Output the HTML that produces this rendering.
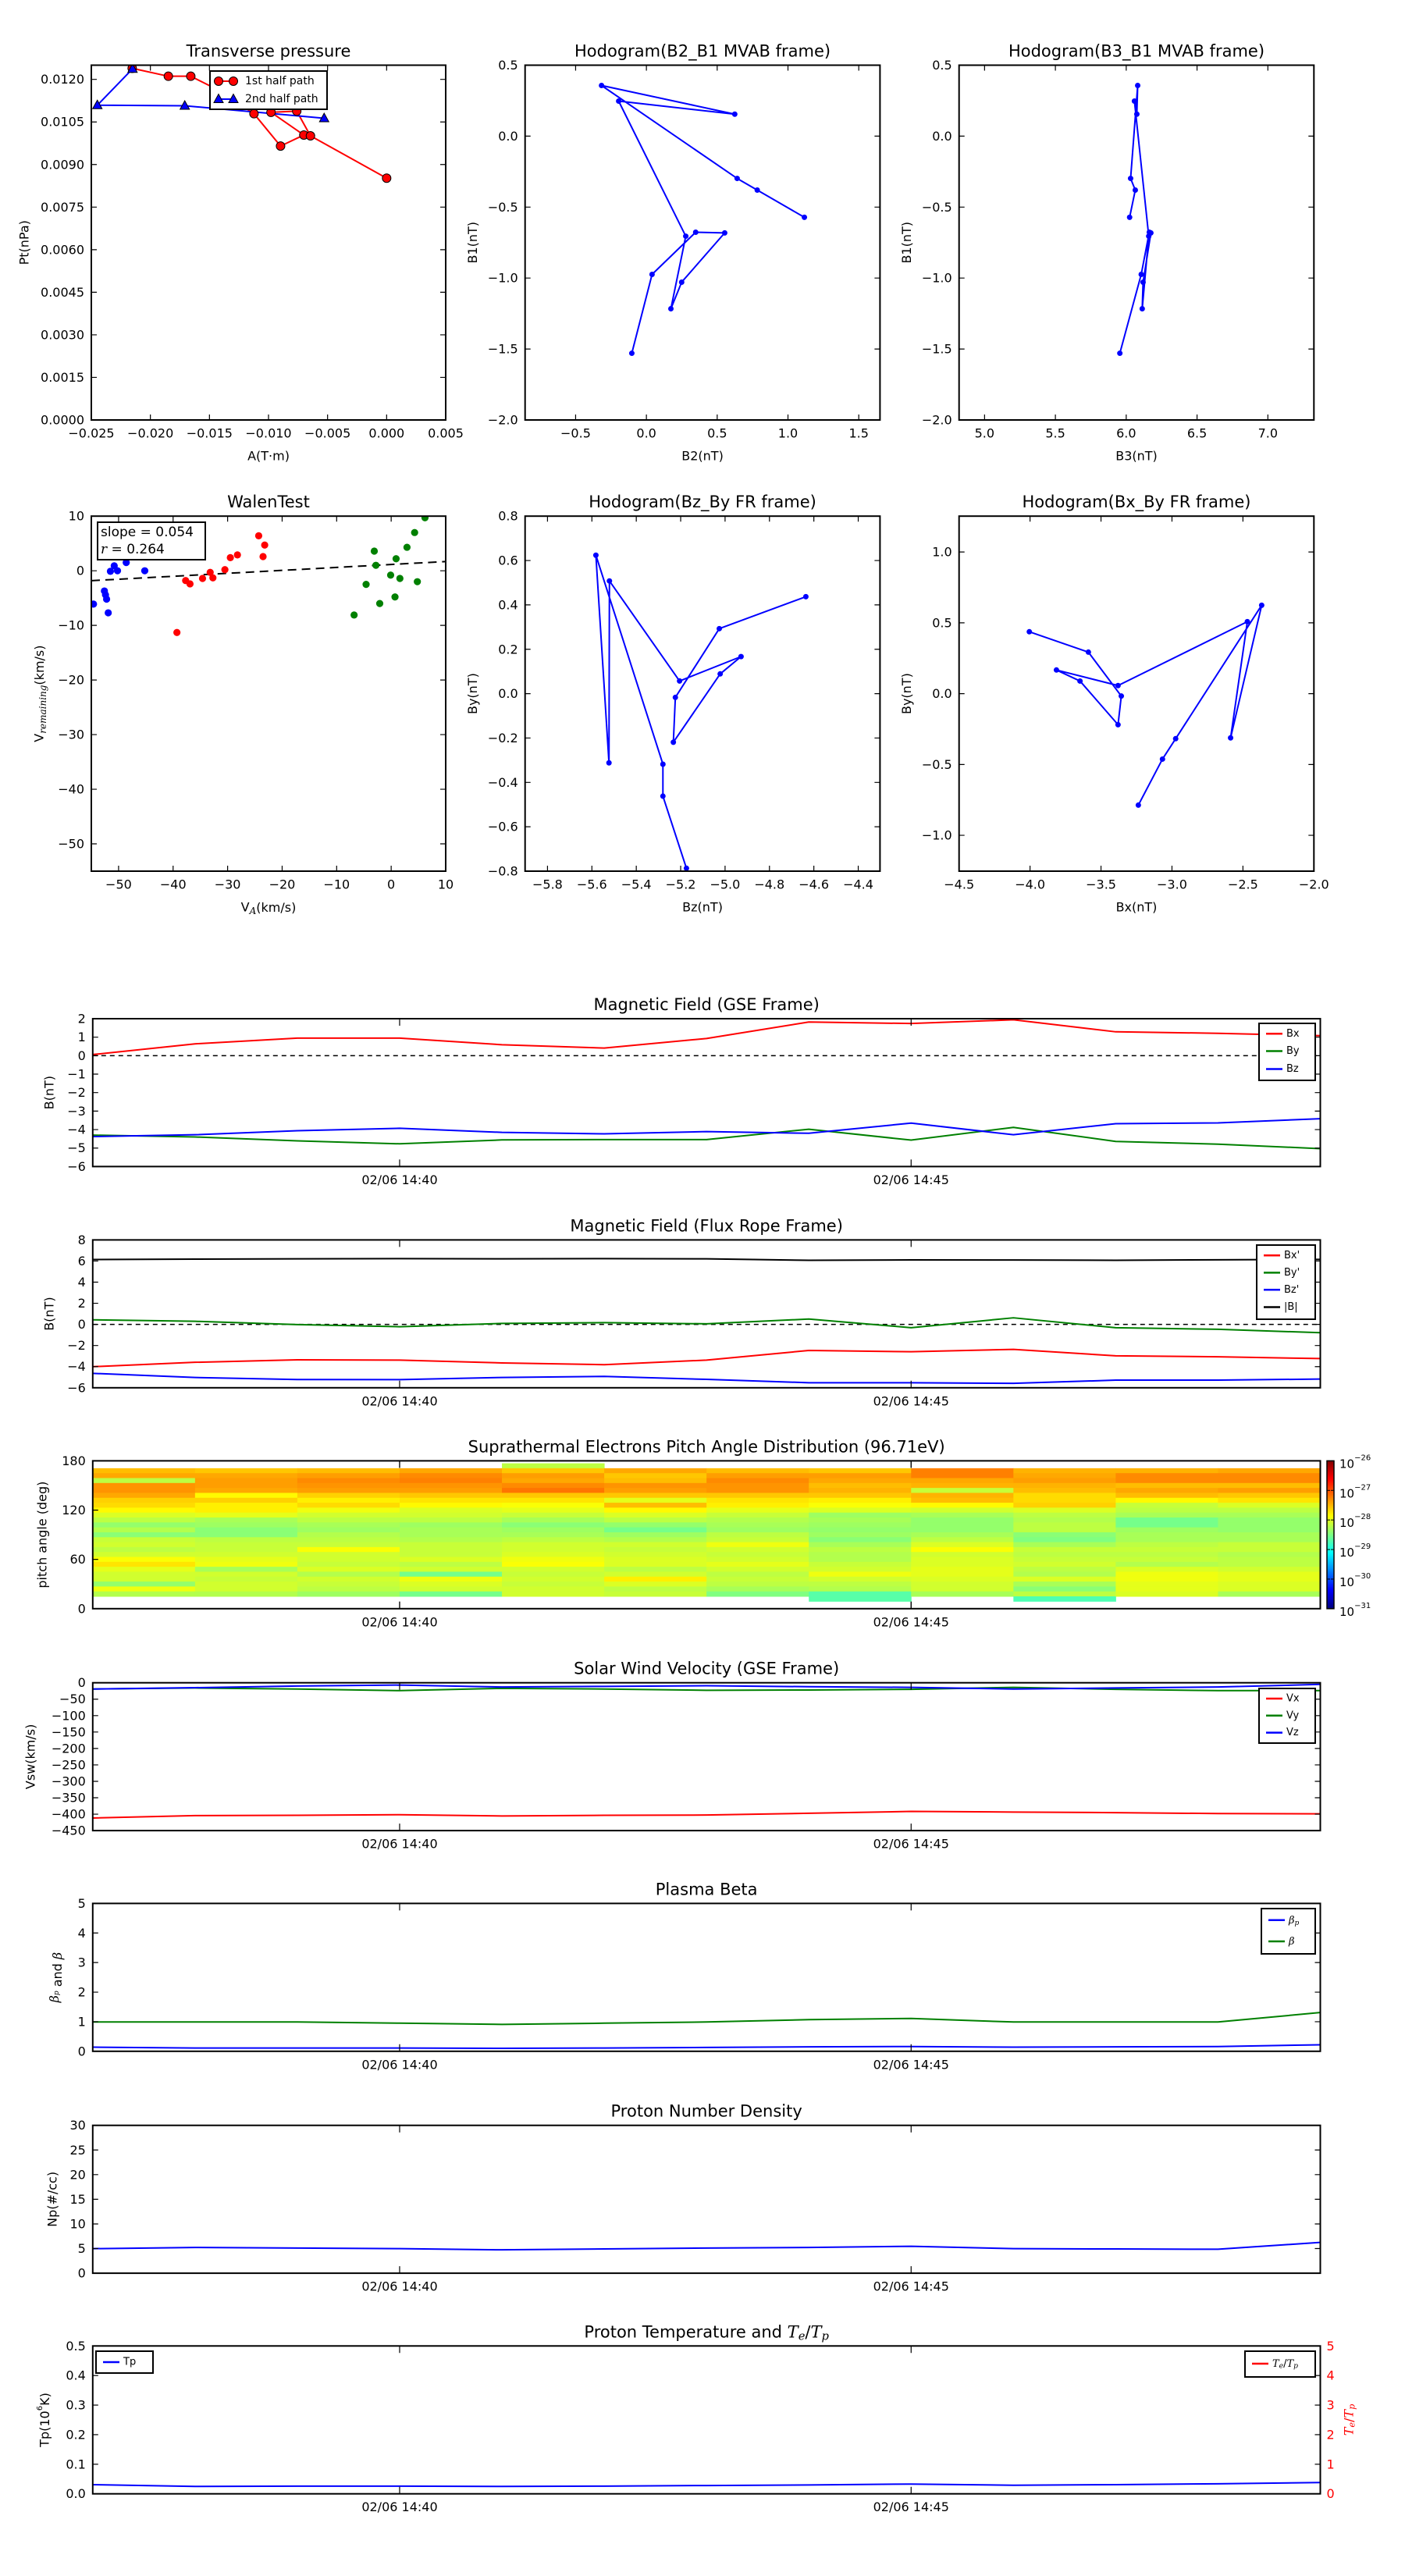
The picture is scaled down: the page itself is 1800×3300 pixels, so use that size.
<!DOCTYPE html>
<html><head><meta charset="utf-8">
<style>html,body{margin:0;padding:0;background:#fff}svg{display:block;font-family:"DejaVu Sans","Liberation Sans",sans-serif}</style>
</head><body>
<svg id="fig" xmlns="http://www.w3.org/2000/svg" width="1800" height="3300" viewBox="0 0 1800 3300"><rect width="1800" height="3300" fill="#fff"/></svg>
<script>
// ---------- data ----------
const tpFirstA=[-0.02154,-0.01848,-0.01658,-0.01413,-0.01123,-0.00898,-0.00701,-0.00979,-0.00761,-0.00645,0.0];
const tpFirstPt=[0.01239,0.01211,0.01211,0.01160,0.01079,0.00965,0.01004,0.01084,0.01088,0.01001,0.00852];
const tpSecondA=[-0.02151,-0.02449,-0.01709,-0.00529];
const tpSecondPt=[0.01237,0.01109,0.01107,0.01063];
const hodoB2=[1.116,0.783,0.641,-0.317,0.624,-0.196,0.278,0.173,0.249,0.553,0.348,0.040,-0.103];
const hodoB1=[-0.572,-0.380,-0.298,0.357,0.155,0.247,-0.705,-1.216,-1.029,-0.682,-0.677,-0.974,-1.530];
const hodoB3=[6.024,6.064,6.031,6.081,6.075,6.058,6.159,6.113,6.119,6.174,6.163,6.106,5.955];
const walenBlueX=[-54.6,-52.6,-52.4,-52.2,-51.9,-51.5,-50.8,-50.2,-48.6,-45.2];
const walenBlueY=[-6.1,-3.7,-4.4,-5.2,-7.7,-0.1,0.9,0.0,1.5,0.0];
const walenRedX=[-39.3,-37.7,-36.9,-34.6,-33.2,-32.7,-30.5,-29.5,-28.2,-24.3,-23.2,-23.5];
const walenRedY=[-11.3,-1.8,-2.4,-1.4,-0.3,-1.3,0.2,2.4,2.9,6.4,4.7,2.6];
const walenGreenX=[-6.8,-4.6,-3.1,-2.8,-2.1,-0.1,0.7,0.9,1.6,2.9,4.3,4.8,6.2];
const walenGreenY=[-8.1,-2.5,3.6,1.0,-6.0,-0.8,-4.8,2.2,-1.4,4.3,7.0,-2.0,9.7];
const walenSlope=0.054;
const walenIntercept=1.15;
const timeLabels=['14:37','14:38','14:39','14:40','14:41','14:42','14:43','14:44','14:45','14:46','14:47','14:48','14:49'];
const timeTickIdx=[3,8];
const timeTickLabels=['02/06 14:40','02/06 14:45'];
const gseBx=[0.06,0.64,0.95,0.95,0.59,0.41,0.93,1.82,1.74,1.94,1.29,1.21,1.08];
const gseBy=[-4.30,-4.40,-4.61,-4.77,-4.56,-4.54,-4.54,-3.98,-4.57,-3.88,-4.64,-4.79,-5.03];
const gseBz=[-4.38,-4.28,-4.06,-3.93,-4.15,-4.23,-4.11,-4.20,-3.65,-4.28,-3.68,-3.64,-3.41];
const frBx=[-4.005,-3.589,-3.357,-3.380,-3.648,-3.814,-3.380,-2.469,-2.587,-2.368,-2.974,-3.067,-3.237];
const frBy=[0.437,0.293,-0.017,-0.219,0.089,0.167,0.057,0.508,-0.312,0.624,-0.318,-0.462,-0.787];
const frBz=[-4.636,-5.026,-5.224,-5.233,-5.022,-4.928,-5.205,-5.521,-5.523,-5.582,-5.280,-5.280,-5.174];
const frBt=[6.14,6.18,6.21,6.23,6.21,6.23,6.21,6.07,6.11,6.10,6.07,6.12,6.15];
const vx=[-411.7,-404.4,-403.5,-401.7,-405.4,-403.5,-402.6,-397.2,-391.7,-393.5,-395.3,-398.1,-399.0];
const vy=[-19,-16,-19,-24,-17,-19,-23,-22,-20,-14,-20,-24,-24];
const vz=[-19,-15,-10,-7,-13,-11,-9,-12,-14,-19,-16,-13,-5];
const betaP=[0.14,0.11,0.11,0.11,0.10,0.11,0.13,0.15,0.16,0.14,0.15,0.16,0.22];
const betaT=[0.99,0.99,0.99,0.95,0.91,0.95,0.99,1.07,1.11,0.99,0.99,0.99,1.31];
const density=[4.98,5.22,5.10,4.98,4.74,4.92,5.10,5.22,5.46,4.98,4.92,4.86,6.25];
const tempP=[0.031,0.025,0.026,0.026,0.025,0.026,0.028,0.030,0.033,0.029,0.031,0.034,0.038];
const padBinsTop=[177,171,165,159,153,147,141,135,129,123,117,111,105,99,93,87,81,75,69,63,57,51,45,39,33,27,21,15];
const padLog=[
[null,-27.55,-27.45,-28.2,-27.35,-27.35,-27.45,-27.65,-27.7,-27.85,-28.05,-28.2,-28.4,-28.25,-28.45,-28.15,-28.1,-28.2,-28.1,-27.9,-27.75,-28.0,-28.1,-28.1,-28.4,-27.95,-28.25,null],
[null,-27.6,-27.45,-27.4,-27.4,-27.45,-27.85,-27.65,-27.8,-27.8,-28.0,-28.3,-28.35,-28.45,-28.45,-28.2,-28.15,-28.15,-28.1,-28.0,-27.95,-28.3,-28.1,-28.15,-28.1,-28.1,-28.25,null],
[null,-27.55,-27.4,-27.3,-27.35,-27.4,-27.65,-27.8,-27.7,-27.95,-28.1,-28.2,-28.3,-28.35,-28.25,-28.2,-28.15,-27.9,-28.1,-28.1,-28.15,-28.05,-28.25,-28.1,-28.15,-28.2,-28.35,null],
[null,-27.45,-27.3,-27.25,-27.35,-27.4,-27.6,-27.75,-27.85,-28.05,-28.1,-28.2,-28.35,-28.3,-28.3,-28.25,-28.15,-28.15,-28.15,-28.05,-28.2,-28.1,-28.55,-27.95,-28.05,-28.1,-28.55,null],
[-28.2,-27.6,-27.4,-27.45,-27.3,-27.2,-27.6,-27.75,-27.9,-28.0,-28.15,-28.3,-28.45,-28.35,-28.3,-28.2,-28.1,-28.1,-28.05,-27.95,-27.9,-28.1,-28.15,-28.1,-28.15,-28.1,-28.1,null],
[null,-27.45,-27.6,-27.55,-27.35,-27.4,-27.6,-28.0,-27.55,-27.85,-28.05,-28.2,-28.4,-28.55,-28.35,-28.25,-28.1,-28.15,-28.1,-28.05,-28.05,-28.2,-28.1,-27.8,-28.05,-28.2,-28.15,null],
[null,-27.55,-27.4,-27.3,-27.35,-27.35,-27.6,-27.75,-27.8,-28.0,-28.15,-28.25,-28.3,-28.35,-28.2,-28.15,-27.95,-28.1,-28.15,-28.1,-28.0,-28.1,-28.2,-28.15,-28.2,-28.3,-28.5,null],
[null,-27.6,-27.4,-27.45,-27.55,-27.5,-27.6,-27.8,-27.9,-28.05,-28.35,-28.3,-28.35,-28.4,-28.35,-28.45,-28.3,-28.2,-28.25,-28.25,-28.15,-28.1,-27.95,-28.1,-28.2,-28.25,-28.7,-28.7],
[null,-27.25,-27.25,-27.45,-27.5,-28.15,-27.5,-27.55,-27.85,-28.1,-28.3,-28.4,-28.4,-28.4,-28.3,-28.2,-28.05,-27.9,-28.1,-28.05,-28.05,-28.0,-28.0,-28.05,-28.1,-28.1,-28.3,null],
[null,-27.5,-27.45,-27.4,-27.5,-27.55,-27.7,-27.7,-27.65,-28.05,-28.2,-28.25,-28.2,-28.2,-28.45,-28.5,-28.3,-28.15,-28.2,-28.15,-28.1,-28.2,-28.25,-28.05,-28.3,-28.45,-28.2,-28.75],
[null,-27.5,-27.3,-27.3,-27.55,-27.45,-27.55,-27.85,-28.15,-28.2,-28.3,-28.55,-28.55,-28.35,-28.3,-28.3,-28.2,-28.15,-28.2,-28.15,-28.25,-28.05,-27.95,-27.95,-28.0,-28.0,-28.05,null],
[null,-27.45,-27.3,-27.3,-27.55,-27.4,-27.6,-27.75,-28.05,-28.2,-28.3,-28.4,-28.4,-28.4,-28.3,-28.3,-28.15,-28.15,-28.25,-28.2,-28.2,-28.1,-28.0,-28.0,-28.05,-28.05,-28.3,null]
];
const cbarTicks=[-26,-27,-28,-29,-30,-31];

// ---------- helpers ----------
const NS='http://www.w3.org/2000/svg';
const svg=document.getElementById('fig');
const defs=document.createElementNS(NS,'defs');svg.appendChild(defs);
let clipN=0;
function mk(tag,attrs,parent){const e=document.createElementNS(NS,tag);for(const k in attrs)e.setAttribute(k,attrs[k]);(parent||svg).appendChild(e);return e;}
function lin(d0,d1,r0,r1){return v=>r0+(v-d0)*(r1-r0)/(d1-d0);}
function txt(parent,x,y,str,opts,name){
  const t=mk('text',Object.assign({x:x,y:y,'font-size':16,fill:'#000','text-anchor':'middle','dominant-baseline':'central'},opts||{}),parent);
  t.textContent=str;
  
  
  return t;
}
function fmt(v,d){const s=Math.abs(v).toFixed(d);return (v<-1e-12?'\u2212':'')+s;}
function clipFor(x0,y0,x1,y1){const id='c'+(clipN++);const cp=mk('clipPath',{id:id},defs);mk('rect',{x:x0,y:y0,width:x1-x0,height:y1-y0},cp);return id;}
function poly(parent,xs,ys,sx,sy,color,w,name,dash){
  let d='';for(let i=0;i<xs.length;i++){d+=(i?'L':'M')+sx(xs[i]).toFixed(2)+' '+sy(ys[i]).toFixed(2);}
  const p=mk('path',{d:d,fill:'none',stroke:color,'stroke-width':w,'stroke-linejoin':'round'},parent);
  if(dash)p.setAttribute('stroke-dasharray',dash);
  
  
  return p;
}
function frame(parent,x0,y0,x1,y1,name){
  const r=mk('rect',{x:x0,y:y0,width:x1-x0,height:y1-y0,fill:'none',stroke:'#000','stroke-width':2},parent);
  
  
}

// ---------- square panels ----------
function panel(c){
  const g=mk('g',{});
  
  
  const sx=lin(c.xlim[0],c.xlim[1],c.x0,c.x1), sy=lin(c.ylim[0],c.ylim[1],c.y1,c.y0);
  const id=clipFor(c.x0,c.y0,c.x1,c.y1);
  const plot=mk('g',{'clip-path':'url(#'+id+')'},g);
  c.xticks.forEach((v,i)=>{const x=sx(v);
    mk('path',{d:`M${x} ${c.y1}v-7M${x} ${c.y0}v7`,stroke:'#000','stroke-width':1.2},g);
    txt(g,x,c.y1+17,c.xtl[i],{},'x-tick-label');});
  c.yticks.forEach((v,i)=>{const y=sy(v);
    mk('path',{d:`M${c.x0} ${y}h7M${c.x1} ${y}h-7`,stroke:'#000','stroke-width':1.2},g);
    txt(g,c.x0-9,y,c.ytl[i],{'text-anchor':'end'},'y-tick-label');});
  const cx=(c.x0+c.x1)/2, cy=(c.y0+c.y1)/2;
  txt(g,cx,c.y0-18,c.title,{'font-size':21},'panel-title');
  const xl=txt(g,cx,c.y1+46,'',{},'x-axis-title');
  const yl=txt(g,c.x0-c.ylOff,cy,'',{transform:`rotate(-90 ${c.x0-c.ylOff} ${cy})`},'y-axis-title');
  if(typeof c.xlabel==='string')xl.textContent=c.xlabel;else c.xlabel(xl);
  if(typeof c.ylabel==='string')yl.textContent=c.ylabel;else c.ylabel(yl);
  return {g,plot,sx,sy,done:()=>frame(g,c.x0,c.y0,c.x1,c.y1,'plot-frame')};
}
function rng(a,b,s){const r=[];for(let v=a;v<=b+1e-9;v+=s)r.push(+v.toFixed(6));return r;}
function dots(parent,xs,ys,sx,sy,r,color,name,stroke){
  for(let i=0;i<xs.length;i++){
    const c=mk('circle',{cx:sx(xs[i]),cy:sy(ys[i]),r:r,fill:color,stroke:stroke||color,'stroke-width':stroke?1:0},parent);
    
    
  }
}

// Panel 1 Transverse pressure
{
  const xt=rng(-0.025,0.005,0.005), yt=rng(0,0.012,0.0015);
  const P=panel({name:'transverse-pressure-panel',x0:117,x1:571,y0:83.5,y1:538,xlim:[-0.025,0.005],ylim:[0,0.0125],
    xticks:xt,xtl:xt.map(v=>fmt(v,3)),yticks:yt,ytl:yt.map(v=>fmt(v,4)),title:'Transverse pressure',xlabel:'A(T\u00b7m)',ylabel:'Pt(nPa)',ylOff:86});
  poly(P.plot,tpFirstA,tpFirstPt,P.sx,P.sy,'#ff0000',2,'first-half-path-line');
  poly(P.plot,tpSecondA,tpSecondPt,P.sx,P.sy,'#0000ff',2,'second-half-path-line');
  dots(P.plot,tpFirstA,tpFirstPt,P.sx,P.sy,5.5,'#ff0000','first-half-point','#000');
  for(let i=0;i<tpSecondA.length;i++){const x=P.sx(tpSecondA[i]),y=P.sy(tpSecondPt[i]);
    const t=mk('path',{d:`M${x} ${y-6.5}L${x-6} ${y+4.5}L${x+6} ${y+4.5}Z`,fill:'#0000ff',stroke:'#000','stroke-width':1},P.plot);
    
    }
  const lg=mk('g',{},P.g);
  
  
  mk('rect',{x:269,y:91,width:150,height:49,fill:'#fff',stroke:'#000','stroke-width':2},lg);
  mk('line',{x1:280,y1:104,x2:299,y2:104,stroke:'#ff0000','stroke-width':2},lg);
  mk('circle',{cx:280,cy:104,r:5.5,fill:'#ff0000',stroke:'#000'},lg);mk('circle',{cx:299,cy:104,r:5.5,fill:'#ff0000',stroke:'#000'},lg);
  mk('line',{x1:280,y1:127,x2:299,y2:127,stroke:'#0000ff','stroke-width':2},lg);
  mk('path',{d:'M280 120.5L274 131.5L286 131.5ZM299 120.5L293 131.5L305 131.5Z',fill:'#0000ff',stroke:'#000'},lg);
  txt(lg,314,104,'1st half path',{'text-anchor':'start','font-size':14},'legend-entry');
  txt(lg,314,127,'2nd half path',{'text-anchor':'start','font-size':14},'legend-entry');
  P.done();
}
// Panel 2 Hodogram B2-B1
{
  const xt=[-0.5,0,0.5,1.0,1.5], yt=rng(-2,0.5,0.5);
  const P=panel({name:'hodogram-b2-b1-panel',x0:672.7,x1:1127.4,y0:83.5,y1:538,xlim:[-0.857,1.65],ylim:[-2,0.5],
    xticks:xt,xtl:xt.map(v=>fmt(v,1)),yticks:yt,ytl:yt.map(v=>fmt(v,1)),title:'Hodogram(B2_B1 MVAB frame)',xlabel:'B2(nT)',ylabel:'B1(nT)',ylOff:67});
  poly(P.plot,hodoB2,hodoB1,P.sx,P.sy,'#0000ff',2,'hodogram-line');
  dots(P.plot,hodoB2,hodoB1,P.sx,P.sy,3.5,'#0000ff','hodogram-point');
  P.done();
}
// Panel 3 Hodogram B3-B1
{
  const xt=rng(5,7,0.5), yt=rng(-2,0.5,0.5);
  const P=panel({name:'hodogram-b3-b1-panel',x0:1228.7,x1:1683.3,y0:83.5,y1:538,xlim:[4.82,7.325],ylim:[-2,0.5],
    xticks:xt,xtl:xt.map(v=>fmt(v,1)),yticks:yt,ytl:yt.map(v=>fmt(v,1)),title:'Hodogram(B3_B1 MVAB frame)',xlabel:'B3(nT)',ylabel:'B1(nT)',ylOff:67});
  poly(P.plot,hodoB3,hodoB1,P.sx,P.sy,'#0000ff',2,'hodogram-line');
  dots(P.plot,hodoB3,hodoB1,P.sx,P.sy,3.5,'#0000ff','hodogram-point');
  P.done();
}
// Panel 4 Walen test
{
  const xt=rng(-50,10,10), yt=rng(-50,10,10);
  const P=panel({name:'walen-test-panel',x0:117,x1:571,y0:661.2,y1:1116,xlim:[-55,10],ylim:[-55,10],
    xticks:xt,xtl:xt.map(v=>fmt(v,0)),yticks:yt,ytl:yt.map(v=>fmt(v,0)),title:'WalenTest',
    xlabel:t=>{t.appendChild(document.createTextNode('V'));const s=mk('tspan',{'font-style':'italic','font-family':'DejaVu Serif, serif','font-size':12,dy:5},t);s.textContent='A';const r=mk('tspan',{dy:-5},t);r.textContent='(km/s)';},
    ylabel:t=>{t.appendChild(document.createTextNode('V'));const s=mk('tspan',{'font-style':'italic','font-family':'DejaVu Serif, serif','font-size':12,dy:5},t);s.textContent='remaining';const r=mk('tspan',{dy:-5},t);r.textContent='(km/s)';},ylOff:67});
  poly(P.plot,[-55,10],[walenSlope*-55+walenIntercept,walenSlope*10+walenIntercept],P.sx,P.sy,'#000',2,'fit-line','11 7');
  dots(P.plot,walenBlueX,walenBlueY,P.sx,P.sy,4.6,'#0000ff','walen-point-blue');
  dots(P.plot,walenRedX,walenRedY,P.sx,P.sy,4.6,'#ff0000','walen-point-red');
  dots(P.plot,walenGreenX,walenGreenY,P.sx,P.sy,4.6,'#008000','walen-point-green');
  const lg=mk('g',{},P.g);
  
  
  mk('rect',{x:125,y:669,width:138,height:48,fill:'#fff',stroke:'#000','stroke-width':2},lg);
  txt(lg,129,682,'slope = '+walenSlope.toFixed(3),{'text-anchor':'start','font-size':17},'slope-text');
  const rt=txt(lg,129,704,'',{'text-anchor':'start','font-size':17},'r-text');
  const ri=mk('tspan',{'font-style':'italic','font-family':'DejaVu Serif, serif'},rt);ri.textContent='r';
  const rr=mk('tspan',{},rt);rr.textContent=' = 0.264';
  P.done();
}
// Panel 5 Hodogram Bz-By
{
  const xt=rng(-5.8,-4.4,0.2), yt=rng(-0.8,0.8,0.2);
  const P=panel({name:'hodogram-bz-by-panel',x0:672.7,x1:1127.4,y0:661.2,y1:1116,xlim:[-5.901,-4.302],ylim:[-0.8,0.8],
    xticks:xt,xtl:xt.map(v=>fmt(v,1)),yticks:yt,ytl:yt.map(v=>fmt(v,1)),title:'Hodogram(Bz_By FR frame)',xlabel:'Bz(nT)',ylabel:'By(nT)',ylOff:67});
  poly(P.plot,frBz,frBy,P.sx,P.sy,'#0000ff',2,'hodogram-line');
  dots(P.plot,frBz,frBy,P.sx,P.sy,3.5,'#0000ff','hodogram-point');
  P.done();
}
// Panel 6 Hodogram Bx-By
{
  const xt=rng(-4.5,-2,0.5), yt=rng(-1,1,0.5);
  const P=panel({name:'hodogram-bx-by-panel',x0:1228.7,x1:1683.3,y0:661.2,y1:1116,xlim:[-4.5,-2.0],ylim:[-1.253,1.253],
    xticks:xt,xtl:xt.map(v=>fmt(v,1)),yticks:yt,ytl:yt.map(v=>fmt(v,1)),title:'Hodogram(Bx_By FR frame)',xlabel:'Bx(nT)',ylabel:'By(nT)',ylOff:67});
  poly(P.plot,frBx,frBy,P.sx,P.sy,'#0000ff',2,'hodogram-line');
  dots(P.plot,frBx,frBy,P.sx,P.sy,3.5,'#0000ff','hodogram-point');
  P.done();
}

// ---------- time series panels ----------
const TX0=118.8, TX1=1691.5, TH=189.4;
const tsx=lin(0,timeLabels.length-1,TX0,TX1);
const idx=timeLabels.map((_,i)=>i);
function tsPanel(c){
  const y0=c.top,y1=c.top+TH;
  const off=c.ylOff||56;
  const g=mk('g',{});
  
  
  const sy=lin(c.ylim[0],c.ylim[1],y1,y0);
  const id=clipFor(TX0,y0,TX1,y1);
  const plot=mk('g',{'clip-path':'url(#'+id+')'},g);
  timeTickIdx.forEach((v,i)=>{const x=tsx(v);
    mk('path',{d:`M${x} ${y1}v-9M${x} ${y0}v9`,stroke:'#000','stroke-width':1.2},g);
    txt(g,x,y1+17,timeTickLabels[i],{},'time-tick-label');});
  c.yticks.forEach((v,i)=>{const y=sy(v);
    mk('path',{d:`M${TX0} ${y}h7`+(c.noRightTicks?'':`M${TX1} ${y}h-7`),stroke:'#000','stroke-width':1.2},g);
    txt(g,TX0-9,y,c.ytl[i],{'text-anchor':'end'},'y-tick-label');});
  const cy=(y0+y1)/2;
  const tt=txt(g,(TX0+TX1)/2,y0-18,c.title,{'font-size':21},'panel-title');
  const yl=txt(g,TX0-off,cy,'',{transform:`rotate(-90 ${TX0-off} ${cy})`},'y-axis-title');
  if(typeof c.ylabel==='string')yl.textContent=c.ylabel;else c.ylabel(yl);
  return {g,plot,sy,y0,y1,tt,done:()=>frame(g,TX0,y0,TX1,y1,'plot-frame')};
}
function legend(parent,x,y,w,h,entries){
  const lg=mk('g',{},parent);
  
  
  mk('rect',{x:x,y:y,width:w,height:h,fill:'#fff',stroke:'#000','stroke-width':2},lg);
  entries.forEach(e=>{
    mk('line',{x1:x+9,y1:e.y,x2:x+30,y2:e.y,stroke:e.color,'stroke-width':2.5},lg);
    const t=txt(lg,x+35,e.y,'',{'text-anchor':'start','font-size':13},'legend-entry');
    if(typeof e.label==='string')t.textContent=e.label;else e.label(t);
  });
}
function mathTeTp(t,size){
  const a=mk('tspan',{'font-style':'italic','font-family':'DejaVu Serif, serif'},t);a.textContent='T';
  const b=mk('tspan',{'font-style':'italic','font-family':'DejaVu Serif, serif','font-size':size*0.7,dy:size*0.25},t);b.textContent='e';
  const c=mk('tspan',{dy:-size*0.25},t);c.textContent='/';
  const d=mk('tspan',{'font-style':'italic','font-family':'DejaVu Serif, serif'},t);d.textContent='T';
  const e=mk('tspan',{'font-style':'italic','font-family':'DejaVu Serif, serif','font-size':size*0.7,dy:size*0.25},t);e.textContent='p';
}

// GSE
{
  const yt=rng(-6,2,1);
  const P=tsPanel({name:'magnetic-field-gse-panel',top:1305,ylim:[-6,2],yticks:yt,ytl:yt.map(v=>fmt(v,0)),title:'Magnetic Field (GSE Frame)',ylabel:'B(nT)',ylOff:56});
  poly(P.plot,[0,12],[0,0],tsx,P.sy,'#000',1.5,'zero-line','6 5');
  poly(P.plot,idx,gseBx,tsx,P.sy,'#ff0000',2,'bx-line');
  poly(P.plot,idx,gseBy,tsx,P.sy,'#008000',2,'by-line');
  poly(P.plot,idx,gseBz,tsx,P.sy,'#0000ff',2,'bz-line');
  legend(P.g,1613,1311,72,73,[{y:1324.3,color:'#ff0000',label:'Bx'},{y:1346.5,color:'#008000',label:'By'},{y:1369.5,color:'#0000ff',label:'Bz'}]);
  P.done();
}
// Flux rope
{
  const yt=rng(-6,8,2);
  const P=tsPanel({name:'magnetic-field-flux-rope-panel',top:1588.4,ylim:[-6,8],yticks:yt,ytl:yt.map(v=>fmt(v,0)),title:'Magnetic Field (Flux Rope Frame)',ylabel:'B(nT)',ylOff:56});
  poly(P.plot,[0,12],[0,0],tsx,P.sy,'#000',1.5,'zero-line','6 5');
  poly(P.plot,idx,frBx,tsx,P.sy,'#ff0000',2,'bx-prime-line');
  poly(P.plot,idx,frBy,tsx,P.sy,'#008000',2,'by-prime-line');
  poly(P.plot,idx,frBz,tsx,P.sy,'#0000ff',2,'bz-prime-line');
  poly(P.plot,idx,frBt,tsx,P.sy,'#000000',2,'b-total-line');
  legend(P.g,1610,1595,75,95,[{y:1608.3,color:'#ff0000',label:"Bx'"},{y:1630.4,color:'#008000',label:"By'"},{y:1652.3,color:'#0000ff',label:"Bz'"},{y:1674.5,color:'#000',label:'|B|'}]);
  P.done();
}
// PAD
function jet(t){t=Math.max(0,Math.min(1,t));const c=v=>Math.round(255*Math.max(0,Math.min(1,1.5-Math.abs(v))));return `rgb(${c(4*t-3)},${c(4*t-2)},${c(4*t-1)})`;}
{
  const yt=[0,60,120,180];
  const P=tsPanel({name:'pitch-angle-distribution-panel',top:1871.4,ylim:[0,180],yticks:yt,ytl:yt.map(v=>String(v)),title:'Suprathermal Electrons Pitch Angle Distribution (96.71eV)',ylabel:'pitch angle (deg)',noRightTicks:true,ylOff:65});
  const hm=mk('g',{},P.plot);
  
  
  padLog.forEach((col,i)=>{
    col.forEach((v,j)=>{
      if(v===null)return;
      const x0=tsx(i),x1=tsx(i+1),ya=P.sy(padBinsTop[j]),yb=P.sy(padBinsTop[j]-6);
      const r=mk('rect',{x:x0,y:ya,width:x1-x0+0.5,height:yb-ya+0.5,fill:jet((v+31)/5)},hm);
      
      
    });
  });
  timeTickIdx.forEach(v=>{const x=tsx(v);mk('path',{d:`M${x} ${P.y1}v-9M${x} ${P.y0}v9`,stroke:'#000','stroke-width':1.2},P.g);});
  const cb=mk('g',{});
  
  
  const cy=lin(-31,-26,P.y1,P.y0);
  for(let k=0;k<100;k++){const a=-31+k*0.05;
    mk('rect',{x:1700,y:cy(a+0.05),width:9,height:(cy(a)-cy(a+0.05))+0.4,fill:jet((a+31)/5)},cb);}
  mk('rect',{x:1700,y:P.y0,width:9,height:TH,fill:'none',stroke:'#000','stroke-width':1.5},cb);
  cbarTicks.forEach(v=>{const y=cy(v);
    mk('line',{x1:1700,y1:y,x2:1704,y2:y,stroke:'#000'},cb);mk('line',{x1:1709,y1:y,x2:1705,y2:y,stroke:'#000'},cb);
    const t=txt(cb,1716,y+4,'10',{'text-anchor':'start','font-size':15},'colorbar-tick-label');
    const s=mk('tspan',{'font-size':10,dy:-8},t);s.textContent='\u2212'+Math.abs(v);});
  P.done();
}
// Velocity
{
  const yt=rng(-450,0,50);
  const P=tsPanel({name:'solar-wind-velocity-panel',top:2155.7,ylim:[-450,0],yticks:yt,ytl:yt.map(v=>fmt(v,0)),title:'Solar Wind Velocity (GSE Frame)',ylabel:'Vsw(km/s)',ylOff:80});
  poly(P.plot,idx,vx,tsx,P.sy,'#ff0000',2,'vx-line');
  poly(P.plot,idx,vy,tsx,P.sy,'#008000',2,'vy-line');
  poly(P.plot,idx,vz,tsx,P.sy,'#0000ff',2,'vz-line');
  legend(P.g,1613,2163,72,70,[{y:2176,color:'#ff0000',label:'Vx'},{y:2197.8,color:'#008000',label:'Vy'},{y:2219.6,color:'#0000ff',label:'Vz'}]);
  P.done();
}
// Beta
function betaLabel(t,sub){const a=mk('tspan',{'font-style':'italic','font-family':'DejaVu Serif, serif'},t);a.textContent='\u03b2';
  if(sub){const b=mk('tspan',{'font-style':'italic','font-family':'DejaVu Serif, serif','font-size':9,dy:4},t);b.textContent='p';const c=mk('tspan',{dy:-4},t);c.textContent='';}}
{
  const yt=rng(0,5,1);
  const P=tsPanel({name:'plasma-beta-panel',top:2438.4,ylim:[0,5],yticks:yt,ytl:yt.map(v=>String(v)),title:'Plasma Beta',ylOff:50,
    ylabel:t=>{betaLabel(t,true);const m=mk('tspan',{},t);m.textContent=' and ';betaLabel(t,false);}});
  poly(P.plot,idx,betaP,tsx,P.sy,'#0000ff',2,'beta-p-line');
  poly(P.plot,idx,betaT,tsx,P.sy,'#008000',2,'beta-line');
  legend(P.g,1616,2445,69,58,[{y:2459.8,color:'#0000ff',label:t=>betaLabel(t,true)},{y:2487,color:'#008000',label:t=>betaLabel(t,false)}]);
  P.done();
}
// Density
{
  const yt=rng(0,30,5);
  const P=tsPanel({name:'proton-density-panel',top:2722.7,ylim:[0,30],yticks:yt,ytl:yt.map(v=>String(v)),title:'Proton Number Density',ylabel:'Np(#/cc)',ylOff:52});
  poly(P.plot,idx,density,tsx,P.sy,'#0000ff',2,'density-line');
  P.done();
}
// Temperature
{
  const yt=rng(0,0.5,0.1);
  const P=tsPanel({name:'proton-temperature-panel',top:3005.3,ylim:[0,0.5],yticks:yt,ytl:yt.map(v=>v.toFixed(1)),title:'',noRightTicks:true,ylOff:62,
    ylabel:t=>{t.appendChild(document.createTextNode('Tp('));const a=mk('tspan',{},t);a.textContent='10';const b=mk('tspan',{'font-size':10,dy:-6},t);b.textContent='6';const c=mk('tspan',{dy:6},t);c.textContent='K)';}});
  P.tt.textContent='Proton Temperature and ';
  mathTeTp(P.tt,21);
  const ry=lin(0,5,P.y1,P.y0);
  rng(0,5,1).forEach(v=>{const y=ry(v);
    mk('path',{d:`M${TX1} ${y}h-7`,stroke:'#000','stroke-width':1.2},P.g);
    txt(P.g,TX1+8,y,String(v),{'text-anchor':'start',fill:'#ff0000'},'right-y-tick-label');});
  const cy=(P.y0+P.y1)/2;
  const rl=txt(P.g,TX1+36,cy,'',{fill:'#ff0000',transform:`rotate(-90 ${TX1+36} ${cy})`},'right-y-axis-title');
  mathTeTp(rl,16);
  poly(P.plot,idx,tempP,tsx,P.sy,'#0000ff',2,'tp-line');
  legend(P.g,123,3012,73,28,[{y:3026,color:'#0000ff',label:'Tp'}]);
  legend(P.g,1595,3012,90,33,[{y:3028,color:'#ff0000',label:t=>mathTeTp(t,13)}]);
  P.done();
}
</script>
</body></html>
